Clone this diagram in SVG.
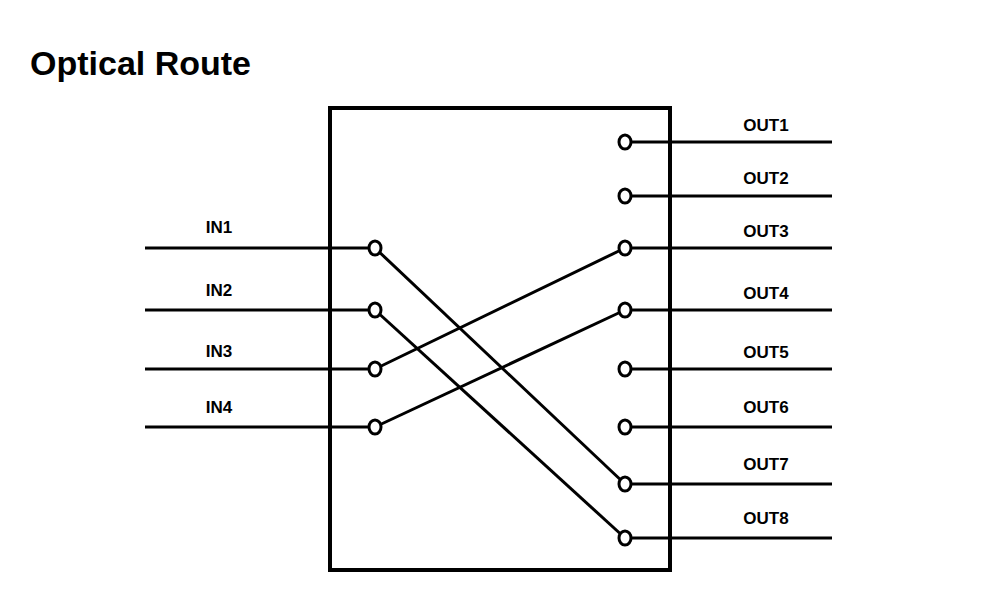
<svg xmlns="http://www.w3.org/2000/svg" width="987" height="589" viewBox="0 0 987 589">
<style>
.l{stroke:#000;stroke-width:3;fill:none}
.c{stroke:#000;stroke-width:3;fill:#fff}
.t{font-family:"Liberation Sans",Arial,sans-serif;font-weight:bold;font-size:17px;text-anchor:middle}
</style>
<rect width="987" height="589" fill="#fff"/>
<text x="30" y="75" font-family="Liberation Sans,Arial,sans-serif" font-weight="bold" font-size="34">Optical Route</text>
<rect x="330" y="108" width="340" height="462" fill="none" stroke="#000" stroke-width="4"/>
<g id="connectors">
<line class="l" x1="145" y1="248" x2="368" y2="248"/>
<line class="l" x1="145" y1="310" x2="368" y2="310"/>
<line class="l" x1="145" y1="369" x2="368" y2="369"/>
<line class="l" x1="145" y1="427" x2="368" y2="427"/>
<line class="l" x1="632" y1="142" x2="832" y2="142"/>
<line class="l" x1="632" y1="196" x2="832" y2="196"/>
<line class="l" x1="632" y1="248" x2="832" y2="248"/>
<line class="l" x1="632" y1="310" x2="832" y2="310"/>
<line class="l" x1="632" y1="369" x2="832" y2="369"/>
<line class="l" x1="632" y1="427" x2="832" y2="427"/>
<line class="l" x1="632" y1="484" x2="832" y2="484"/>
<line class="l" x1="632" y1="538" x2="832" y2="538"/>
<line class="l" x1="375" y1="248" x2="625" y2="484"/>
<line class="l" x1="375" y1="310" x2="625" y2="538"/>
<line class="l" x1="375" y1="369" x2="625" y2="248"/>
<line class="l" x1="375" y1="427" x2="625" y2="310"/>
</g>
<g id="in1"><ellipse class="c" cx="375" cy="248" rx="6" ry="7"/><text class="t" x="219" y="233">IN1</text></g>
<g id="in2"><ellipse class="c" cx="375" cy="310" rx="6" ry="7"/><text class="t" x="219" y="296">IN2</text></g>
<g id="in3"><ellipse class="c" cx="375" cy="369" rx="6" ry="7"/><text class="t" x="219" y="357">IN3</text></g>
<g id="in4"><ellipse class="c" cx="375" cy="427" rx="6" ry="7"/><text class="t" x="219" y="413">IN4</text></g>
<g id="out1"><ellipse class="c" cx="625" cy="142" rx="6" ry="7"/><text class="t" x="766" y="131">OUT1</text></g>
<g id="out2"><ellipse class="c" cx="625" cy="196" rx="6" ry="7"/><text class="t" x="766" y="184">OUT2</text></g>
<g id="out3"><ellipse class="c" cx="625" cy="248" rx="6" ry="7"/><text class="t" x="766" y="237">OUT3</text></g>
<g id="out4"><ellipse class="c" cx="625" cy="310" rx="6" ry="7"/><text class="t" x="766" y="299">OUT4</text></g>
<g id="out5"><ellipse class="c" cx="625" cy="369" rx="6" ry="7"/><text class="t" x="766" y="358">OUT5</text></g>
<g id="out6"><ellipse class="c" cx="625" cy="427" rx="6" ry="7"/><text class="t" x="766" y="413">OUT6</text></g>
<g id="out7"><ellipse class="c" cx="625" cy="484" rx="6" ry="7"/><text class="t" x="766" y="470">OUT7</text></g>
<g id="out8"><ellipse class="c" cx="625" cy="538" rx="6" ry="7"/><text class="t" x="766" y="524">OUT8</text></g>
</svg>
